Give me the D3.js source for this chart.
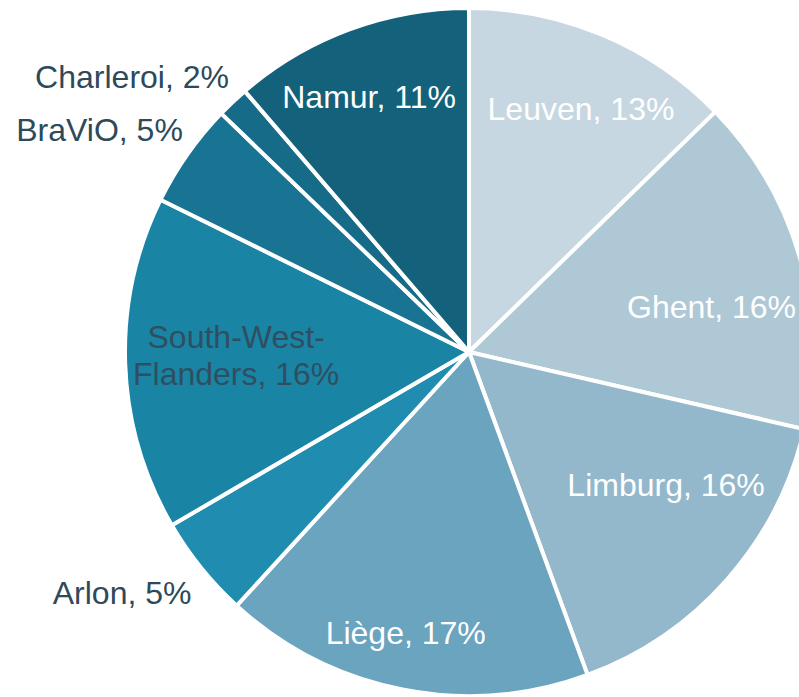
<!DOCTYPE html>
<html>
<head>
<meta charset="utf-8">
<script src="https://cdn.jsdelivr.net/npm/d3@7"></script>
<style>
  html, body { margin: 0; padding: 0; background: #fff; }
  svg { display: block; }
  .lbl { font-family: "Liberation Sans", Arial, sans-serif; font-size: 32px; text-anchor: middle; }
</style>
</head>
<body>
<div id="chart"></div>
<script>
// data, clockwise from 12 o'clock
const regions = ["Leuven", "Ghent", "Limburg", "Liège", "Arlon", "South-West-Flanders", "BraViO", "Charleroi", "Namur"];
const shares = [12.7, 15.9, 15.8, 17.4, 4.8, 15.7, 4.9, 1.5, 11.3];
const shownPct = ["13%", "16%", "16%", "17%", "5%", "16%", "5%", "2%", "11%"];

const colors = ["#c6d7e1", "#aec8d6", "#93b7cb", "#6ba4bf", "#208db0", "#1a84a4", "#197494", "#166b89", "#13617a"];
const textColors = ["#fff", "#fff", "#fff", "#fff", "#2e4a5a", "#2f4f61", "#2e4a5a", "#2e4a5a", "#fff"];
// label placement: radius (fraction of pie radius) and angle (deg, clockwise from top)
const labelR = [0.779, 0.717, 0.691, 0.837, 1.228, 0.677, 1.253, 1.264, 0.796];
const labelA = [24.7, 79.5, 124.0, 192.7, 235.2, 269.3, 301.0, 309.2, 338.6];

const width = 799, height = 697;
const cx = 469, cy = 352, radius = 344;

const svg = d3.select("#chart").append("svg")
  .attr("width", width)
  .attr("height", height);

const g = svg.append("g").attr("transform", `translate(${cx},${cy})`);

const pie = d3.pie().sort(null).value((d) => d);
const arc = d3.arc().innerRadius(0).outerRadius(radius);

g.selectAll("path")
  .data(pie(shares))
  .join("path")
  .attr("d", arc)
  .attr("fill", (d, i) => colors[i])
  .attr("stroke", "#fff")
  .attr("stroke-width", 4)
  .attr("stroke-linejoin", "round");

// labels
const labels = g.selectAll("text")
  .data(regions)
  .join("text")
  .attr("class", "lbl")
  .attr("fill", (d, i) => textColors[i])
  .attr("transform", (d, i) => {
    const a = labelA[i] * Math.PI / 180;
    const r = labelR[i] * radius;
    return `translate(${r * Math.sin(a)},${-r * Math.cos(a)})`;
  });

labels.each(function (d, i) {
  const t = d3.select(this);
  if (d === "South-West-Flanders") {
    t.append("tspan").attr("x", 0).attr("y", -7).text("South-West-");
    t.append("tspan").attr("x", 0).attr("y", 30).text("Flanders, " + shownPct[i]);
  } else {
    t.append("tspan").attr("x", 0).attr("y", 11).text(d + ", " + shownPct[i]);
  }
});
</script>
</body>
</html>
